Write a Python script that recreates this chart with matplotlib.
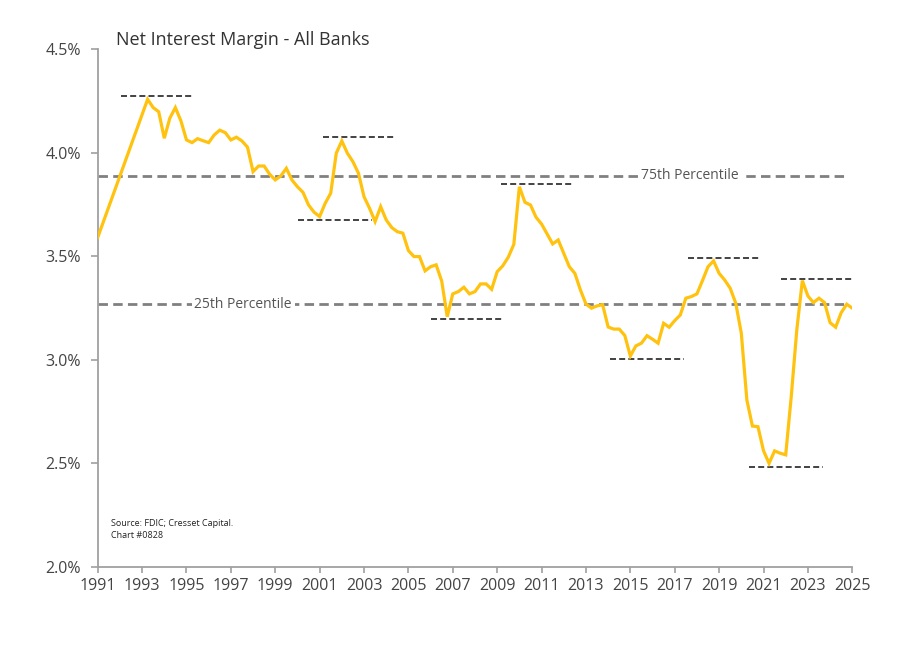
import matplotlib
matplotlib.use("Agg")
import matplotlib.pyplot as plt
import numpy as np

plt.rcParams['font.family'] = ['Open Sans', 'DejaVu Sans']

# Early annual observations
early_years = [1991.0, 1992.0, 1993.0]
early_nim = [3.59, 3.886, 4.183]

# Quarterly observations starting 1993.25
q_start = 1993.25
q_nim = [
    4.257, 4.217, 4.197, 4.069, 4.166, 4.217, 4.153, 4.061,  # 1993.25-1995.0
    4.048, 4.067, 4.057, 4.048, 4.085, 4.108, 4.096, 4.061,  # -1997.0
    4.074, 4.056, 4.026, 3.908, 3.935, 3.935, 3.895, 3.868,  # -1999.0
    3.887, 3.924, 3.868, 3.835, 3.808, 3.747, 3.712, 3.691,  # -2001.0
    3.755, 3.804, 3.997, 4.056, 3.997, 3.956, 3.900, 3.787,  # -2003.0
    3.731, 3.667, 3.739, 3.675, 3.638, 3.618, 3.611, 3.527,  # -2005.0
    3.498, 3.498, 3.429, 3.449, 3.458, 3.380, 3.208, 3.318,  # -2007.0
    3.329, 3.350, 3.318, 3.329, 3.366, 3.366, 3.340, 3.425,  # -2009.0
    3.453, 3.495, 3.557, 3.835, 3.760, 3.747, 3.688, 3.655,  # -2011.0
    3.607, 3.559, 3.578, 3.514, 3.449, 3.417, 3.337, 3.269,  # -2013.0
    3.249, 3.260, 3.266, 3.158, 3.148, 3.148, 3.117, 3.018,  # -2015.0
    3.067, 3.080, 3.116, 3.099, 3.080, 3.176, 3.157, 3.189,  # -2017.0
    3.216, 3.297, 3.305, 3.318, 3.382, 3.449, 3.477, 3.417,  # -2019.0
    3.385, 3.345, 3.273, 3.128, 2.806, 2.680, 2.677, 2.561,  # -2021.0
    2.500, 2.560, 2.549, 2.541, 2.822, 3.144, 3.382, 3.308,  # -2023.0
    3.276, 3.297, 3.276, 3.179, 3.157, 3.227, 3.268, 3.249,  # -2025.0
]

p75 = 3.887
p25 = 3.269

# Highs/lows markers: (start year, end year, level)
mark_start = [1992.03, 2001.16, 2000.03, 2009.17, 2006.04, 2014.09, 2017.59, 2021.78, 2020.34]
mark_end   = [1995.36, 2004.41, 2003.35, 2012.48, 2009.32, 2017.41, 2020.83, 2025.10, 2023.66]
mark_level = [4.273, 4.074, 3.675, 3.847, 3.197, 3.006, 3.490, 3.389, 2.484]

years_x = list(range(1991, 2026, 2))
y_ticks = [2.0, 2.5, 3.0, 3.5, 4.0, 4.5]

q_years = q_start + 0.25 * np.arange(len(q_nim))
x_all = np.concatenate([early_years, q_years])
y_all = np.concatenate([early_nim, q_nim])

fig = plt.figure(figsize=(9.19, 6.67), dpi=100)
ax = fig.add_axes([0.1063, 0.15, 0.8211, 0.7766])

ax.set_xlim(1991, 2025)
ax.set_ylim(2.0, 4.5)

# percentile lines
for lvl in (p75, p25):
    ax.plot([1991, 2024.75], [lvl, lvl], color='#808080', lw=2.0,
            dashes=(3.4, 1.9), zorder=2)
ax.text(2017.7, p75, '75th Percentile', ha='center', va='center', fontsize=10,
        color='#555555', bbox=dict(facecolor='white', edgecolor='none', pad=2), zorder=3)
ax.text(1997.55, p25, '25th Percentile', ha='center', va='center', fontsize=10,
        color='#555555', bbox=dict(facecolor='white', edgecolor='none', pad=2), zorder=3)

# high/low markers
for s, e, l in zip(mark_start, mark_end, mark_level):
    ax.plot([s, e], [l, l], color='#222222', lw=1.2, dashes=(3.6, 1.9),
            zorder=4, clip_on=False)

ax.plot(x_all, y_all, color='#FFC20E', lw=2.3, zorder=5, solid_joinstyle='miter')

ax.set_xticks(years_x)
ax.set_xticklabels([str(y) for y in years_x])
ax.set_yticks(y_ticks)
ax.set_yticklabels([f'{v:.1f}%' for v in y_ticks])

for s in ('top', 'right'):
    ax.spines[s].set_visible(False)
for s in ('left', 'bottom'):
    ax.spines[s].set_color('#A0A0A0')
    ax.spines[s].set_linewidth(1.3)

ax.tick_params(axis='both', colors='#A0A0A0', labelcolor='#444444',
               labelsize=11.5, width=1.2)
ax.tick_params(axis='x', length=4, pad=4)
ax.tick_params(axis='y', length=5, pad=7)

fig.text(116 / 919, 1 - 45 / 667, 'Net Interest Margin - All Banks',
         fontsize=13, color='#333333', ha='left', va='baseline')

ax.text(0.018, 0.093, 'Source: FDIC; Cresset Capital.\nChart #0828',
        transform=ax.transAxes, fontsize=6.5, color='#222222',
        ha='left', va='top', linespacing=1.5)

fig.savefig('out.png', dpi=100)
